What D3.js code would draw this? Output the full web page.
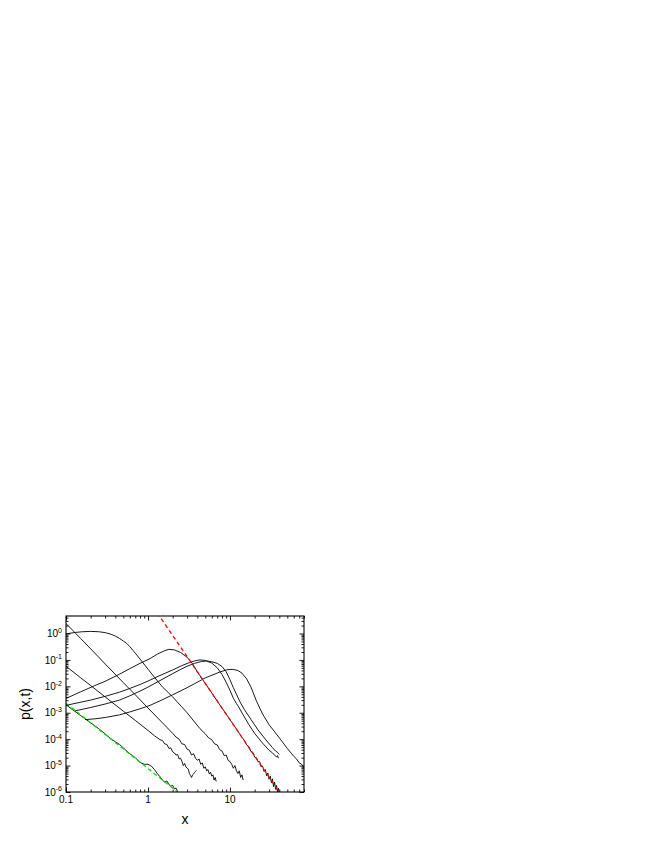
<!DOCTYPE html>
<html><head><meta charset="utf-8">
<script src="https://cdn.jsdelivr.net/npm/d3@7"></script>
<style>body{margin:0;background:#fff} svg{display:block}</style>
</head><body>
<svg id="c" width="654" height="846"></svg>
<script>
// ---- tick labels ----
const xTickValues = [0.1, 1, 10];
const xTickLabels = ["0.1", "1", "10"];
const yTickExps = [0, -1, -2, -3, -4, -5, -6];

// ---- curves: x values and log10(p) values ----
const xA = [0.1,0.13,0.16,0.2,0.25,0.3,0.35,0.4,0.45,0.5,0.55,0.6,0.7,0.84,1.0,1.2,1.5,2.0,2.57,3.0,3.7,4.3,5.0,5.5,6.0,6.5,7.0,7.5,8.0,8.5,9.0,9.5,10,10.5,11,11.5,12,12.5,13,13.5,14,14.5];
const lA = [-0.013,0.041,0.068,0.079,0.068,0.033,-0.022,-0.097,-0.187,-0.284,-0.377,-0.495,-0.745,-1.05,-1.35,-1.66,-2.02,-2.4,-2.77,-3.0,-3.35,-3.6,-3.8,-3.95,-4.02,-4.18,-4.22,-4.4,-4.45,-4.62,-4.6,-4.8,-4.85,-4.95,-5.1,-5.0,-5.2,-5.3,-5.2,-5.45,-5.35,-5.55];

const xB = [0.1,0.15,0.2,0.3,0.5,0.7,1.0,1.5,2.0,2.2,2.4,2.6,2.8,3.0,3.2,3.4,3.6,3.8,4.0,4.2,4.4,4.6,4.8,5.0,5.2,5.4,5.6,5.8,6.0,6.2,6.4,6.6,6.8];
const lB = [0.38,-0.18,-0.58,-1.15,-1.86,-2.32,-2.82,-3.38,-3.78,-3.92,-4.0,-4.18,-4.2,-4.38,-4.42,-4.6,-4.55,-4.72,-4.8,-4.75,-4.95,-4.9,-5.1,-5.05,-5.2,-5.15,-5.32,-5.25,-5.4,-5.35,-5.55,-5.45,-5.6];

const xC = [0.1,0.15,0.2,0.3,0.5,0.7,1.0,1.2,1.4,1.5,1.6,1.7,1.8,1.9,2.0,2.1,2.2,2.3,2.4,2.5,2.6,2.7,2.8,2.9,3.0,3.1,3.2,3.3,3.4,3.5,3.6,3.7,3.8,3.9];
const lC = [-1.24,-1.67,-1.97,-2.40,-2.94,-3.29,-3.67,-3.87,-4.02,-4.05,-4.18,-4.2,-4.35,-4.33,-4.48,-4.52,-4.6,-4.58,-4.75,-4.72,-4.85,-5.0,-4.92,-5.05,-5.1,-5.13,-5.3,-5.38,-5.45,-5.35,-5.32,-5.26,-5.22,-5.18];

const xD = [0.1,0.15,0.225,0.3,0.45,0.6,0.8,1.06,1.3,1.6,1.8,2.1,2.5,3.0,3.5,4,5,6,7,8,9,10,11,12,13,14,15,16,17,18,19,20,21,22,23,24,25,26,27,28,29,30,31,32,33,34,35,36,37,38,39,40];
const lD = [-2.46,-2.21,-1.97,-1.81,-1.54,-1.33,-1.13,-0.95,-0.78,-0.65,-0.6,-0.62,-0.72,-0.9,-1.15,-1.45,-1.89,-2.25,-2.56,-2.82,-3.05,-3.26,-3.45,-3.62,-3.78,-3.93,-4.05,-4.22,-4.28,-4.47,-4.5,-4.68,-4.7,-4.86,-4.85,-5.05,-5.02,-5.22,-5.15,-5.38,-5.28,-5.52,-5.4,-5.65,-5.5,-5.8,-5.62,-5.9,-5.75,-6.0,-5.85,-6.05];

const xE1 = [0.1,0.2,0.3,0.45,0.6,0.8,1.0,1.33,2,2.57,3.2,3.7,4.3,5,6,7,8,9,10,11,12,12.6,14,17,20,25,30,33,35,37,38,39];
const lE1 = [-2.72,-2.52,-2.38,-2.22,-2.08,-1.93,-1.8,-1.62,-1.38,-1.22,-1.1,-1.04,-1.0,-1.02,-1.12,-1.3,-1.55,-1.85,-2.15,-2.45,-2.65,-2.75,-3.0,-3.45,-3.78,-4.15,-4.42,-4.52,-4.6,-4.68,-4.62,-4.72];

const xE2 = [0.129,0.2,0.3,0.45,0.6,0.8,1,1.33,2,2.5,3,3.7,4.5,5.2,6,7,8,9,10,11,12,13.2,15,18,22,27,33,36,38,40];
const lE2 = [-2.93,-2.8,-2.67,-2.52,-2.36,-2.18,-2.03,-1.82,-1.52,-1.36,-1.24,-1.13,-1.06,-1.04,-1.07,-1.13,-1.25,-1.45,-1.75,-2.05,-2.3,-2.58,-2.88,-3.25,-3.65,-4.0,-4.32,-4.45,-4.5,-4.58];

const xF = [0.17,0.225,0.3,0.45,0.6,0.8,1.06,1.47,2,3,3.7,5,7.5,9,10,11,12.5,14,16,18,21,25,30,40,50,60,65,70,75,80];
const lF = [-3.26,-3.23,-3.18,-3.08,-2.97,-2.85,-2.72,-2.52,-2.32,-2.05,-1.9,-1.68,-1.46,-1.38,-1.36,-1.36,-1.4,-1.5,-1.72,-2.02,-2.55,-3.05,-3.45,-3.95,-4.35,-4.65,-4.75,-4.9,-4.95,-5.07];

const xG = [0.1,0.12,0.15,0.2,0.25,0.3,0.35,0.4,0.45,0.5,0.6,0.7,0.8,0.9,1.0,1.1,1.2,1.3,1.4,1.5,1.6,1.7,1.8,1.9,2.0,2.1,2.2,2.3];
const lG = [-2.7,-2.88,-3.1,-3.38,-3.6,-3.8,-3.98,-4.1,-4.2,-4.33,-4.55,-4.7,-4.88,-4.95,-4.95,-5.02,-5.15,-5.3,-5.42,-5.55,-5.62,-5.58,-5.72,-5.78,-5.75,-5.88,-5.85,-5.98];

// fitted power laws (dashed): end points
const xRed = [1.3, 40];
const lRed = [0.78, -6.01];
const xGreen = [0.1, 2.4];
const lGreen = [-2.64, -6.05];

const blackCurves = [[xA,lA],[xB,lB],[xC,lC],[xD,lD],[xE1,lE1],[xE2,lE2],[xF,lF],[xG,lG]];

// ---- drawing ----
const svg = d3.select("#c");
const m = {l:66, r:304, t:616, b:792};
const x = d3.scaleLog().domain([0.1, 80]).range([m.l, m.r]);
const y = d3.scaleLog().domain([1e-6, 4.6]).range([m.b, m.t]);
const font = "'Liberation Sans', Arial, Helvetica, sans-serif";

svg.append("defs").append("clipPath").attr("id","clip")
  .append("rect").attr("x",m.l).attr("y",m.t).attr("width",m.r-m.l).attr("height",m.b-m.t);

const line = d3.line().x(d => x(d[0])).y(d => y(Math.pow(10, d[1])));
const plot = svg.append("g").attr("clip-path","url(#clip)");

function pts(xs, ls){ return xs.map((v,i) => [v, ls[i]]); }

blackCurves.forEach(([xs, ls]) => {
  plot.append("path").attr("d", line(pts(xs, ls)))
    .attr("fill","none").attr("stroke","#000").attr("stroke-width",0.9).attr("stroke-linejoin","round");
});
plot.append("path").attr("d", line(pts(xRed, lRed)))
  .attr("fill","none").attr("stroke","#ff0000").attr("stroke-width",1.3).attr("stroke-dasharray","4,3");
plot.append("path").attr("d", line(pts(xGreen, lGreen)))
  .attr("fill","none").attr("stroke","#00dd00").attr("stroke-width",1.3).attr("stroke-dasharray","4,3");

// axes ticks (inward)
const xMinor = x.ticks().filter(v => !xTickValues.some(t => Math.abs(t - v) < 1e-9));
const yMajorVals = yTickExps.map(e => Math.pow(10, e));
const yMinor = y.ticks().filter(v => !yMajorVals.some(t => Math.abs(t - v)/t < 1e-6));

function ax(axisFn, scale, vals, size, tr){
  const g = svg.append("g").attr("transform", tr)
    .call(axisFn(scale).tickValues(vals).tickSize(size).tickSizeOuter(0).tickFormat(""));
  g.select(".domain").remove();
  g.selectAll(".tick line").attr("stroke","#000").attr("stroke-width",0.9);
}
ax(d3.axisBottom, x, xTickValues, -4.5, `translate(0,${m.b})`);
ax(d3.axisBottom, x, xMinor, -2.5, `translate(0,${m.b})`);
ax(d3.axisTop, x, xTickValues, -4.5, `translate(0,${m.t})`);
ax(d3.axisTop, x, xMinor, -2.5, `translate(0,${m.t})`);
ax(d3.axisLeft, y, yMajorVals, -4.5, `translate(${m.l},0)`);
ax(d3.axisLeft, y, yMinor, -2.5, `translate(${m.l},0)`);
ax(d3.axisRight, y, yMajorVals, -4.5, `translate(${m.r},0)`);
ax(d3.axisRight, y, yMinor, -2.5, `translate(${m.r},0)`);

// frame
svg.append("rect").attr("x",m.l).attr("y",m.t).attr("width",m.r-m.l).attr("height",m.b-m.t)
  .attr("fill","none").attr("stroke","#000").attr("stroke-width",1.1);

// x tick labels
xTickValues.forEach((v,i) => {
  svg.append("text").attr("x", x(v)).attr("y", m.b + 10.5)
    .attr("text-anchor","middle").attr("font-family",font).attr("font-size",10)
    .text(xTickLabels[i]);
});
// y tick labels
yTickExps.forEach(e => {
  const t = svg.append("text").attr("x", m.l - 4).attr("y", y(Math.pow(10,e)) + 3.6)
    .attr("text-anchor","end").attr("font-family",font).attr("font-size",10);
  t.append("tspan").text("10");
  t.append("tspan").attr("font-size",7).attr("dy",-4.2).text(String(e).replace("-","-"));
});

// axis titles
svg.append("text").attr("x",(m.l+m.r)/2).attr("y",824).attr("text-anchor","middle")
  .attr("font-family",font).attr("font-size",14).text("x");
svg.append("text").attr("transform",`translate(30,${(m.t+m.b)/2}) rotate(-90)`)
  .attr("text-anchor","middle").attr("font-family",font).attr("font-size",14).text("p(x,t)");
</script>
</body></html>
